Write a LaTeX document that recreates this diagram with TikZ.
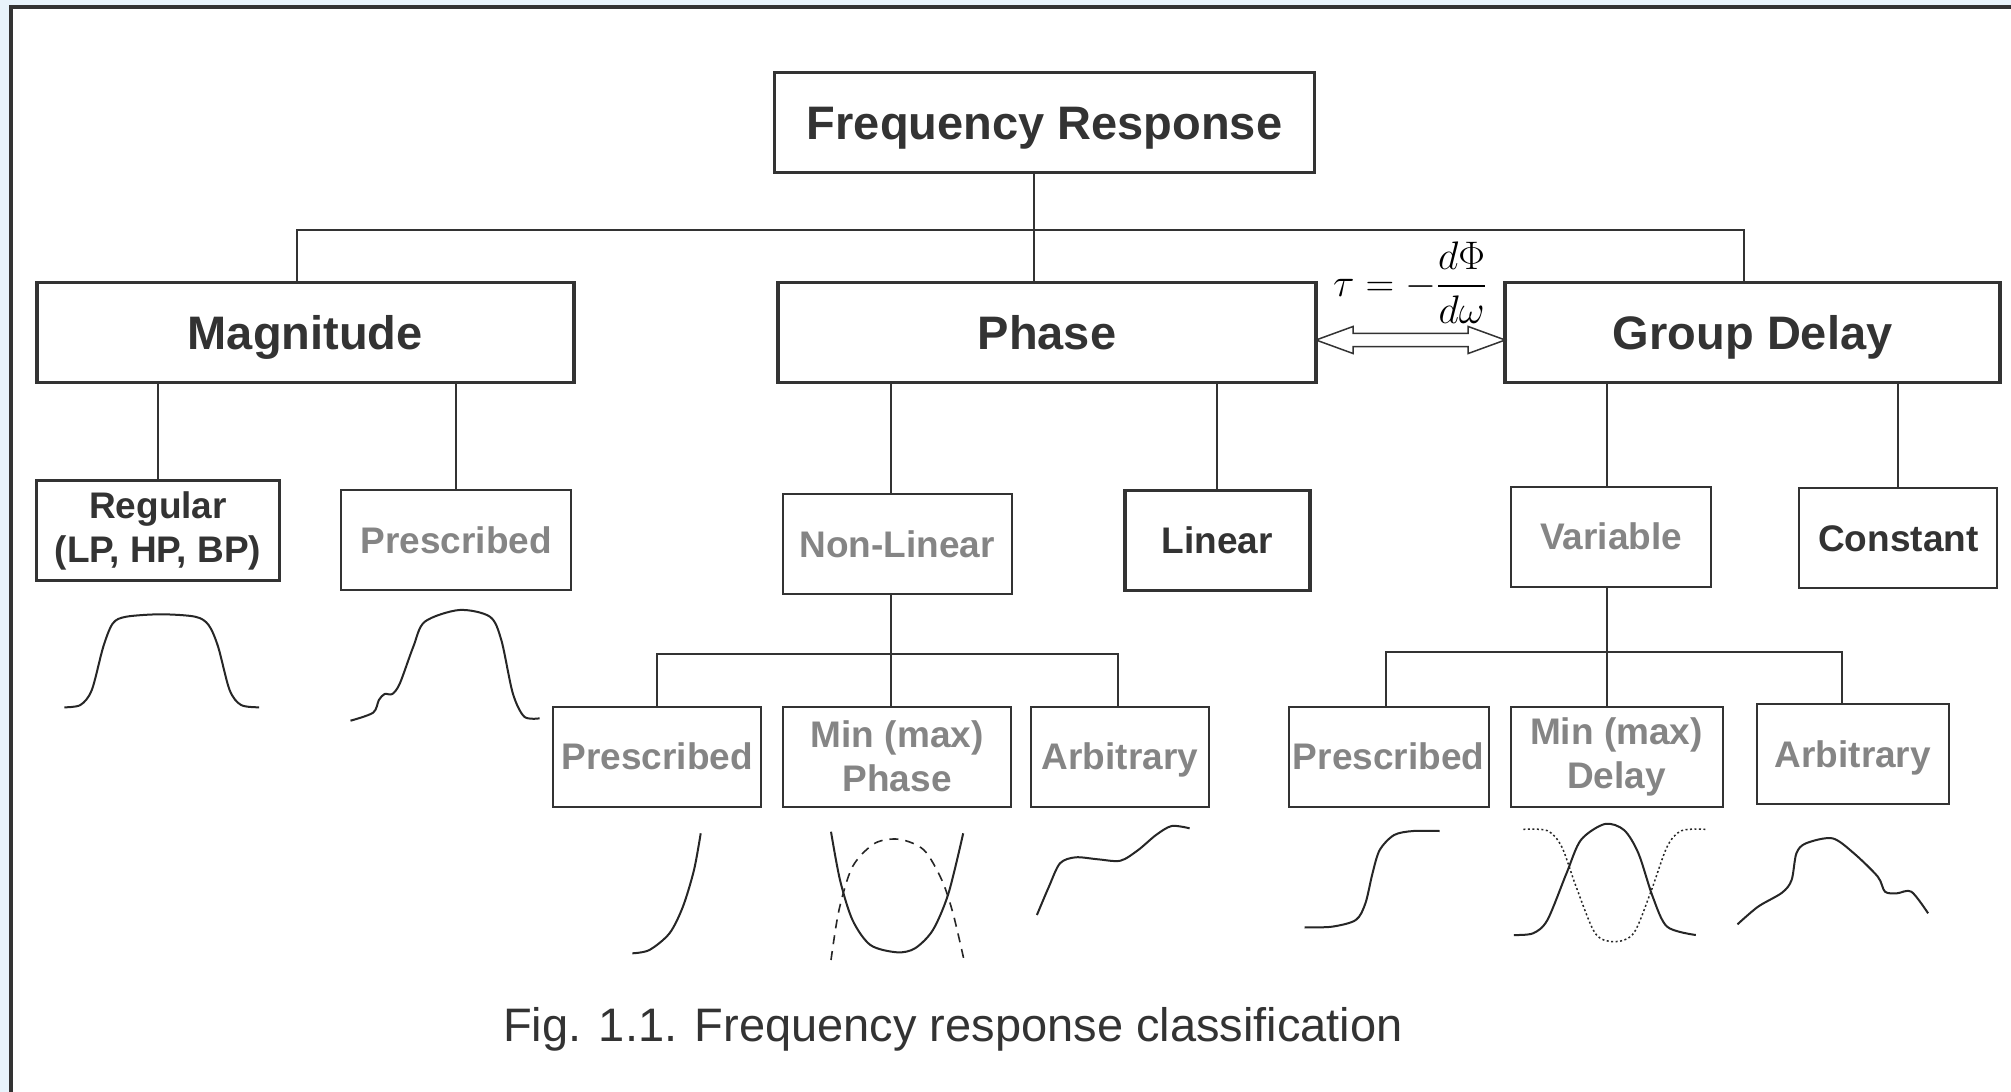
\documentclass[tikz,border=0pt]{standalone}
\usepackage{amsmath}
\usepackage{graphicx}
\usepackage{fontspec}
\setmainfont{Liberation Sans}
\usepackage{tikz}
\usetikzlibrary{calc}
\definecolor{ink}{HTML}{333333}
\definecolor{fade}{HTML}{858585}
\definecolor{sky}{RGB}{232,243,251}
\tikzstyle{mainbox} = [draw=ink,line width=3.5pt,fill=white,minimum height=100pt,inner sep=2pt,outer sep=0pt,text=ink,text height=34pt,text depth=0pt,font=\fontsize{47}{56}\selectfont\bfseries]
\tikzstyle{subbox} = [draw=ink,line width=2pt,fill=white,minimum height=100pt,inner sep=2pt,outer sep=0pt,align=center,text=fade,text height=26.5pt,text depth=0pt,font=\fontsize{37}{44}\selectfont\bfseries]
\tikzstyle{twoline} = [text height={},text depth={}]
\tikzstyle{darkbox} = [subbox,line width=3.5pt,text=ink]
\tikzstyle{link} = [draw=ink,line width=2pt]
\tikzstyle{curve} = [line width=2pt,black!85,line join=round]

\begin{document}
\begin{tikzpicture}[x=1pt,y=-1pt]
        \useasboundingbox (0,0) rectangle (2011,1092);
        \fill[sky] (0,0) rectangle (2011,1092);
        \fill[white] (11.3,6.7) rectangle (2011,1092);
        \draw[ink,line width=4pt] (11.3,1092) -- (11.3,6.7) -- (2011,6.7);

        \node[mainbox,minimum width=540pt] (fr) at (1044.6,122.3) {Frequency Response};
        \node[mainbox,minimum width=537pt] (mag) at (305.3,332.5) {Magnitude};
        \node[mainbox,minimum width=538pt] (ph) at (1047,332.5) {Phase};
        \node[mainbox,minimum width=495pt] (gd) at (1752.7,332.5) {Group Delay};

        \node[darkbox,twoline,minimum width=243pt] (reg) at (158,530.5) {Regular\\(LP, HP, BP)};
        \node[subbox,minimum width=230pt] (pm) at (456.2,540.3) {Prescribed};
        \node[subbox,minimum width=229pt] (nl) at (897,544.3) {Non-Linear};
        \node[darkbox,minimum width=185pt] (lin) at (1217.3,540.3) {Linear};
        \node[subbox,minimum width=200pt] (var) at (1611.1,536.5) {Variable};
        \node[subbox,minimum width=198pt,text=ink] (const) at (1898.4,538) {Constant};

        \node[subbox,minimum width=208pt] (pp) at (657.2,756.7) {Prescribed};
        \node[subbox,twoline,minimum width=228pt] (mp) at (897.2,756.7) {Min (max)\\Phase};
        \node[subbox,minimum width=178pt] (ap) at (1120,756.7) {Arbitrary};
        \node[subbox,minimum width=200pt] (pd) at (1388.6,756.7) {Prescribed};
        \node[subbox,twoline,minimum width=212pt] (md) at (1616.5,756.7) {Min (max)\\Delay};
        \node[subbox,minimum width=192pt] (ad) at (1852.8,754.3) {Arbitrary};

        \coordinate (b0) at (297,229.6);
        \coordinate (b1) at (1033.5,229.6);
        \coordinate (b2) at (1743.5,229.6);
        \coordinate (c0) at (657.4,654.3);
        \coordinate (c1) at (891.3,654.3);
        \coordinate (c2) at (1118,654.3);
        \coordinate (d0) at (1385.5,652.3);
        \coordinate (d1) at (1607.2,652.3);
        \coordinate (d2) at (1842,652.3);

        \draw[link] (fr.south -| b1) to (ph.north -| b1);
        \draw[link] (mag.north -| b0) -- (b0) -- (b2) -- (gd.north -| b2);
        \draw[link] (mag.south -| reg.north) to (reg.north);
        \draw[link] (mag.south -| pm.north) to (pm.north);
        \draw[link] (ph.south -| c1) to (nl.north -| c1);
        \draw[link] (ph.south -| lin.north) to (lin.north);
        \draw[link] (gd.south -| d1) to (var.north -| d1);
        \draw[link] (gd.south -| const.north) to (const.north);
        \draw[link] (nl.south -| c1) to (mp.north -| c1);
        \draw[link] (pp.north -| c0) -- (c0) -- (c2) -- (ap.north -| c2);
        \draw[link] (var.south -| d1) to (md.north -| d1);
        \draw[link] (pd.north -| d0) -- (d0) -- (d2) -- (ad.north -| d2);

        \coordinate (al) at ($(ph.east)+(0,7.5)$);
        \coordinate (ar) at ($(gd.west)+(0,7.5)$);
        \draw[ink,line width=1.5pt,fill=white] (al) -- ($(al)+(37,-13.5)$) -- ($(al)+(37,-6.7)$)
            -- ($(ar)+(-37,-6.7)$) -- ($(ar)+(-37,-13.5)$) -- (ar) -- ($(ar)+(-37,13.5)$)
            -- ($(ar)+(-37,6.7)$) -- ($(al)+(37,6.7)$) -- ($(al)+(37,13.5)$) -- cycle;
        \node[inner sep=0pt] (tau) at (1410,282.5) {\fontsize{33}{40}\selectfont\scalebox{1.6}{$\tau=-\dfrac{d\Phi}{d\omega}$}};

        \draw[curve] plot[smooth] coordinates {(64.3,707.3) (80.4,705) (91.8,690) (103.3,646.7) (112.9,623.3) (126.3,616.7) (160.7,614.3) (195.2,616.7) (208.6,625) (218.1,646.7) (229.6,690) (241.1,705) (259.1,707.3)};
        \draw[curve] plot[smooth] coordinates {(350.5,720.7) (373.1,712.7) (378.9,700) (384.6,694) (392.3,694) (399.9,683.3) (413.3,646.7) (424.8,621.7) (459.2,610) (489.9,616.7) (501.3,640) (512.8,693.3) (524.3,716.7) (539.6,718.3)};
        \draw[curve] plot[smooth] coordinates {(632.4,953.3) (649.4,950) (669.5,933.3) (682.9,906.7) (694,870) (700.7,833.3)};
        \draw[curve] plot[smooth] coordinates {(831,831.7) (840,880) (852.5,920) (870.4,945) (897,952.3) (915,948.3) (932.9,930) (948.5,893.3) (963.2,833.3)};
        \draw[curve,line width=1.6pt,dash pattern=on 9pt off 7pt] plot[smooth] coordinates {(831,960) (839,910) (852.5,866.7) (874.8,843.3) (899.4,839.3) (923.9,850) (941.8,880) (953,913.3) (964,960)};
        \draw[curve] plot[smooth] coordinates {(1036.9,915) (1048.9,886.7) (1060,863.3) (1075.7,857.3) (1098,859.3) (1120.4,860.7) (1138.2,850) (1156,835) (1171.7,826) (1189.6,828.3)};
        \draw[curve] plot[smooth] coordinates {(1304.5,927.3) (1331.8,926.7) (1355.8,920) (1365.4,903.3) (1372.5,873.3) (1379.7,850) (1394.1,835) (1413.3,831) (1439.6,831)};
        \draw[curve] plot[smooth] coordinates {(1513.8,935) (1533,933.3) (1547.4,920) (1566.5,873.3) (1580.9,840) (1604.8,824) (1624,830) (1638.4,853.3) (1652.7,896.7) (1667.1,926.7) (1695.8,935)};
        \draw[curve,line width=1.5pt,dash pattern=on 2pt off 2.5pt] plot[smooth] coordinates {(1523.4,829.3) (1547.4,830.7) (1561.7,846.7) (1576.1,886.7) (1595.2,933.3) (1614.4,941.7) (1633.6,933.3) (1650.3,893.3) (1667.1,846.7) (1681.5,830.7) (1705.4,829.3)};
        \draw[curve] plot[smooth] coordinates {(1737.5,924.3) (1758,906.7) (1782,892.7) (1791.6,880) (1796.4,853.3) (1806,843.3) (1832.3,838.3) (1853.9,853.3) (1877.8,876.7) (1885,891.7) (1897,893.3) (1911.4,891.7) (1928.1,913.3)};

        \node[anchor=base,text=ink,font=\fontsize{47}{56}\selectfont] (cap) at (953,1041) {Fig. 1.1. Frequency response classification};
\end{tikzpicture}
\end{document}
